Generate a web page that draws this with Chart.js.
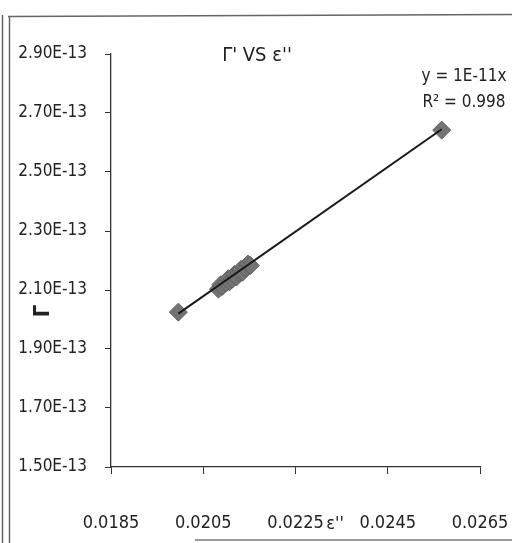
<!DOCTYPE html>
<html>
<head>
<meta charset="utf-8">
<script src="https://cdn.jsdelivr.net/npm/chart.js@4/dist/chart.umd.min.js"></script>
<style>
html,body{margin:0;padding:0;background:#fff;}
#wrap{position:relative;width:512px;height:543px;}
</style>
</head>
<body>
<div id="wrap"><canvas id="c" width="512" height="543"></canvas></div>
<script>
// Data
const epsValues = [0.01996, 0.02083, 0.02088, 0.02091, 0.02100, 0.02104, 0.02107, 0.02113, 0.02118, 0.02122, 0.02128, 0.02132, 0.02135, 0.02143, 0.02147, 0.02152, 0.02567];
const gammaValues = [2.025e-13, 2.103e-13, 2.118e-13, 2.112e-13, 2.124e-13, 2.138e-13, 2.128e-13, 2.137e-13, 2.153e-13, 2.144e-13, 2.158e-13, 2.170e-13, 2.160e-13, 2.175e-13, 2.188e-13, 2.183e-13, 2.642e-13];
const trendX = [0.01996, 0.02567];
const trendY = [2.02e-13, 2.645e-13];
const xTickValues = [0.0185, 0.0205, 0.0225, 0.0245, 0.0265];
const yTickValues = [1.5e-13, 1.7e-13, 1.9e-13, 2.1e-13, 2.3e-13, 2.5e-13, 2.7e-13, 2.9e-13];
const chartTitle = "\u0393' VS \u03b5''";
const xTitle = "\u03b5''";
const yTitle = "\u0393";
const eqLine1 = "y = 1E-11x";
const eqLine2 = "R\u00b2 = 0.998";

const FONT = "'Liberation Sans Narrow', 'DejaVu Sans Condensed', 'Liberation Sans', sans-serif";

const scatterPts = epsValues.map((x, i) => ({x: x, y: gammaValues[i]}));
const trendPts = trendX.map((x, i) => ({x: x, y: trendY[i]}));

const decor = {
  id: 'decor',
  beforeDraw(chart) {
    const ctx = chart.ctx;
    ctx.save();
    ctx.fillStyle = '#fff';
    ctx.fillRect(0, 0, chart.width, chart.height);
    ctx.strokeStyle = '#666';
    ctx.lineWidth = 1.5;
    ctx.beginPath();
    ctx.moveTo(2.5, 15); ctx.lineTo(2.5, 543);
    ctx.moveTo(9.5, 16); ctx.lineTo(9.5, 543);
    ctx.moveTo(8, 16.5); ctx.lineTo(512, 14.5);
    ctx.stroke();
    ctx.strokeStyle = '#999';
    ctx.lineWidth = 2;
    ctx.beginPath();
    ctx.moveTo(195, 540); ctx.lineTo(512, 540);
    ctx.stroke();
    ctx.restore();
  },
  afterDraw(chart) {
    const ctx = chart.ctx;
    ctx.save();
    ctx.fillStyle = '#222';
    ctx.textBaseline = 'middle';
    ctx.textAlign = 'center';
    ctx.font = '20px ' + FONT;
    ctx.fillText(chartTitle, 257, 56);
    ctx.font = '17px ' + FONT;
    ctx.fillText(eqLine1, 464, 77);
    ctx.fillText(eqLine2, 464, 103);
    ctx.font = '18px ' + FONT;
    ctx.fillText(xTitle, 335, 524);
    ctx.save();
    ctx.translate(43, 311);
    ctx.rotate(-Math.PI / 2);
    ctx.font = 'bold 22px ' + FONT;
    ctx.fillText(yTitle, 0, 0);
    ctx.restore();
    ctx.restore();
  }
};

new Chart(document.getElementById('c'), {
  type: 'scatter',
  data: {
    datasets: [
      {
        type: 'line',
        data: trendPts,
        borderColor: '#1a1a1a',
        borderWidth: 2,
        pointRadius: 0,
        fill: false,
        order: 1
      },
      {
        data: scatterPts,
        pointStyle: 'rectRot',
        pointRadius: 9,
        backgroundColor: '#737373',
        borderColor: '#606060',
        borderWidth: 1,
        order: 2
      }
    ]
  },
  options: {
    responsive: false,
    animation: false,
    layout: {padding: {left: 0, right: 32, top: 54, bottom: 0}},
    plugins: {legend: {display: false}, tooltip: {enabled: false}, title: {display: false}},
    scales: {
      x: {
        type: 'linear',
        min: xTickValues[0],
        max: xTickValues[xTickValues.length - 1],
        afterBuildTicks(scale) { scale.ticks = xTickValues.map(v => ({value: v})); },
        afterFit(scale) { scale.height = 76; scale.paddingLeft = 0; scale.paddingRight = 0; },
        grid: {drawOnChartArea: false, drawTicks: true, tickLength: 7, color: '#333'},
        border: {display: true, color: '#333', width: 1.3},
        ticks: {
          padding: 39,
          color: '#222',
          font: {family: FONT, size: 18},
          maxRotation: 0,
          callback: v => v.toFixed(4)
        }
      },
      y: {
        type: 'linear',
        min: yTickValues[0],
        max: yTickValues[yTickValues.length - 1],
        afterBuildTicks(scale) { scale.ticks = yTickValues.map(v => ({value: v})); },
        afterFit(scale) { scale.width = 111; scale.paddingTop = 0; scale.paddingBottom = 0; },
        grid: {drawOnChartArea: false, drawTicks: true, tickLength: 6, color: '#333'},
        border: {display: true, color: '#333', width: 1.3},
        ticks: {
          padding: 18,
          color: '#222',
          font: {family: FONT, size: 17},
          callback: v => v.toExponential(2).toUpperCase()
        }
      }
    }
  },
  plugins: [decor]
});
</script>
</body>
</html>
